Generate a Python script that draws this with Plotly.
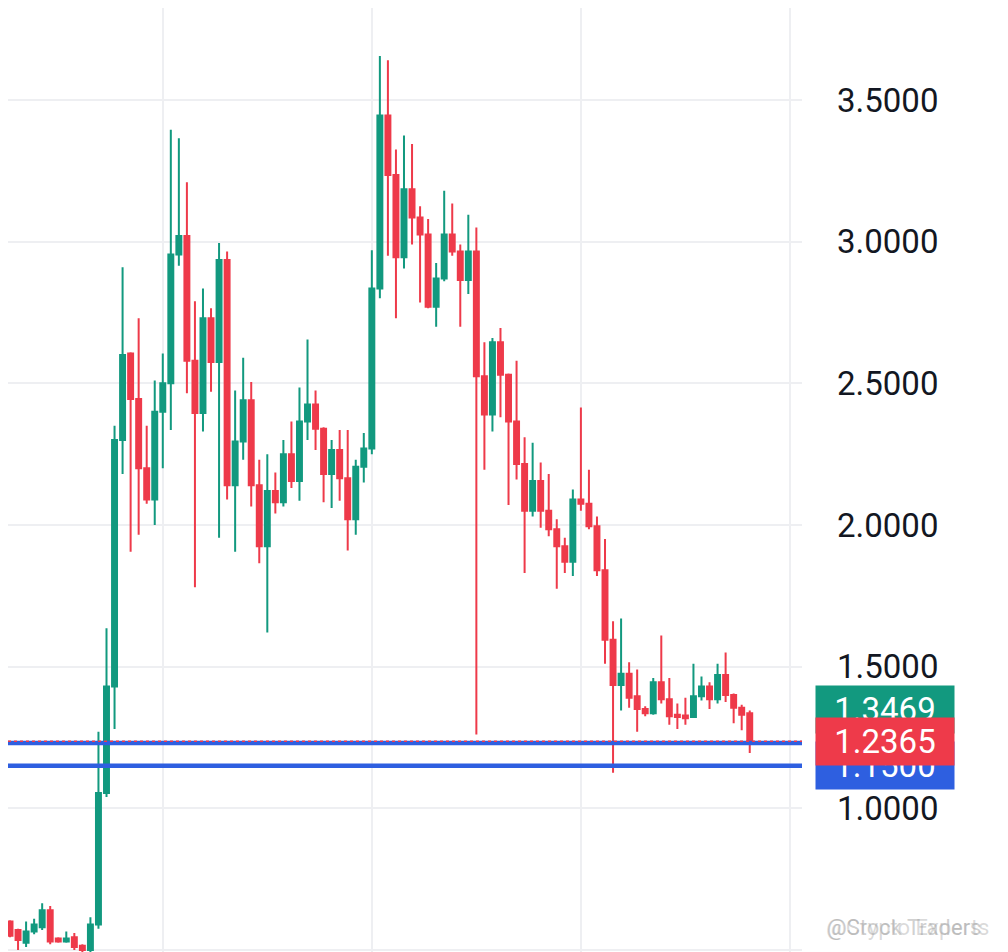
import plotly.graph_objects as go

# candle OHLC values (one candle per slot, oldest first)
opens = [
    0.565, 0.60, 0.57, 0.525, 0.565, 0.58, 0.64, 0.54, 0.53, 0.545,
    0.515, 0.50, 0.59, 1.054, 1.43, 2.30, 2.605, 2.445, 2.20, 2.09,
    2.40, 2.50, 2.955, 3.02, 2.58, 2.395, 2.73, 2.575, 2.935, 2.14,
    2.295, 2.44, 2.14, 1.925, 2.12, 2.08, 2.25, 2.155, 2.365, 2.425,
    2.34, 2.18, 2.265, 2.165, 2.02, 2.205, 2.27, 2.835, 3.445, 3.235,
    2.945, 3.185, 3.085, 3.025, 2.77, 2.87, 3.025, 2.965, 2.865, 2.965,
    2.525, 2.39, 2.645, 2.53, 2.365, 2.215, 2.05, 2.155, 2.05, 1.985,
    1.925, 1.87, 2.09, 2.075, 1.995, 1.84, 1.595, 1.435, 1.475, 1.395,
    1.35, 1.335, 1.445, 1.385, 1.33, 1.327, 1.322, 1.395, 1.43, 1.385,
    1.47, 1.40, 1.355, 1.335,
]
highs = [
    0.64, 0.605, 0.575, 0.60, 0.61, 0.665, 0.655, 0.545, 0.565, 0.56,
    0.52, 0.615, 1.27, 1.635, 2.35, 2.91, 2.61, 2.73, 2.35, 2.51,
    2.605, 3.395, 3.365, 3.21, 2.79, 2.835, 2.765, 2.995, 2.965, 2.475,
    2.59, 2.505, 2.23, 2.25, 2.185, 2.30, 2.365, 2.485, 2.655, 2.475,
    2.345, 2.30, 2.335, 2.335, 2.23, 2.325, 2.97, 3.655, 3.64, 3.325,
    3.375, 3.345, 3.125, 3.08, 2.925, 3.18, 3.135, 2.99, 3.095, 3.05,
    2.645, 2.66, 2.695, 2.535, 2.58, 2.31, 2.29, 2.22, 2.18, 2.02,
    1.955, 2.125, 2.415, 2.195, 2.03, 1.95, 1.66, 1.67, 1.515, 1.49,
    1.36, 1.46, 1.61, 1.46, 1.37, 1.39, 1.51, 1.465, 1.445, 1.51,
    1.55, 1.405, 1.365, 1.345,
]
lows = [
    0.555, 0.545, 0.50, 0.51, 0.555, 0.57, 0.52, 0.525, 0.525, 0.50,
    0.49, 0.49, 0.575, 1.04, 1.28, 2.18, 1.905, 1.965, 2.075, 2.00,
    2.20, 2.335, 2.915, 2.465, 1.78, 2.33, 2.47, 1.955, 2.09, 1.905,
    2.23, 2.065, 1.865, 1.62, 2.04, 2.065, 2.13, 2.085, 2.30, 2.265,
    2.08, 2.06, 2.085, 1.91, 1.965, 2.15, 2.25, 2.80, 2.95, 2.73,
    2.905, 2.99, 2.785, 2.765, 2.70, 2.86, 2.95, 2.70, 2.815, 1.26,
    2.195, 2.33, 2.38, 2.07, 2.16, 1.83, 2.03, 1.99, 1.96, 1.775,
    1.83, 1.82, 2.05, 1.985, 1.82, 1.51, 1.125, 1.345, 1.355, 1.27,
    1.325, 1.33, 1.37, 1.295, 1.28, 1.295, 1.32, 1.38, 1.35, 1.37,
    1.375, 1.30, 1.275, 1.195,
]
closes = [
    0.63, 0.55, 0.535, 0.565, 0.59, 0.64, 0.53, 0.53, 0.54, 0.51,
    0.50, 0.59, 1.054, 1.43, 2.30, 2.60, 2.445, 2.20, 2.09, 2.40,
    2.50, 2.955, 3.02, 2.58, 2.395, 2.73, 2.575, 2.935, 2.14, 2.295,
    2.44, 2.14, 1.925, 2.12, 2.08, 2.25, 2.155, 2.365, 2.425, 2.34,
    2.18, 2.265, 2.165, 2.02, 2.205, 2.27, 2.835, 3.445, 3.235, 2.945,
    3.185, 3.085, 3.025, 2.77, 2.87, 3.025, 2.965, 2.865, 2.965, 2.525,
    2.39, 2.645, 2.53, 2.365, 2.215, 2.05, 2.155, 2.05, 1.985, 1.925,
    1.87, 2.09, 2.075, 1.995, 1.84, 1.595, 1.435, 1.475, 1.39, 1.35,
    1.335, 1.445, 1.385, 1.325, 1.322, 1.318, 1.395, 1.43, 1.385, 1.47,
    1.40, 1.355, 1.33, 1.2365,
]
bars = list(range(len(closes)))

# horizontal support levels drawn in blue
support_levels = [1.23, 1.15]
last_price = 1.2365

# price tags on the right axis: (value, text, colour), drawn in this order
price_tags = [
    (1.3469, "1.3469", "#12997f"),
    (1.1500, "1.1500", "#2e5fe0"),
    (1.2365, "1.2365", "#ee3a4a"),
]

GREEN = "#12997f"
RED = "#ee3a4a"
BLUE = "#2e5fe0"
GRID = "#eeeff2"

fig = go.Figure()

fig.add_trace(go.Candlestick(
    x=bars, open=opens, high=highs, low=lows, close=closes,
    increasing=dict(line=dict(color=GREEN, width=2), fillcolor=GREEN),
    decreasing=dict(line=dict(color=RED, width=2), fillcolor=RED),
    whiskerwidth=0,
    showlegend=False,
))

for lvl in support_levels:
    fig.add_shape(
        type="line", xref="paper", x0=0, x1=1, yref="y", y0=lvl, y1=lvl,
        line=dict(color=BLUE, width=4.5),
    )

# current price line
fig.add_shape(
    type="line", xref="paper", x0=0, x1=1, yref="y", y0=last_price, y1=last_price,
    line=dict(color=RED, width=1.5, dash="dot"),
)

for val, txt, col in price_tags:
    fig.add_annotation(
        x=1, xref="paper", xanchor="left", xshift=13,
        y=val, yref="y", yanchor="middle",
        text=txt, showarrow=False,
        font=dict(family="Roboto", size=33, color="#ffffff"),
        bgcolor=col, width=138, height=47, borderpad=0, align="center",
    )

# faint watermark bottom right
fig.add_annotation(
    x=1.128, xref="paper", xanchor="center",
    y=0.034, yref="paper", yanchor="middle",
    text="@Stock Traders", showarrow=False,
    font=dict(family="Roboto", size=22, color="rgba(150,150,150,0.45)"),
)
fig.add_annotation(
    x=1.133, xref="paper", xanchor="center",
    y=0.034, yref="paper", yanchor="middle",
    text="@Crypto Experts", showarrow=False,
    font=dict(family="Roboto", size=22, color="rgba(150,150,150,0.35)"),
)

fig.update_layout(
    width=1008, height=952,
    margin=dict(l=0, r=214, t=0, b=0),
    paper_bgcolor="white",
    plot_bgcolor="white",
    boxgap=0.12,
    font=dict(family="Roboto", color="#131722"),
    xaxis=dict(
        range=[0.75, 99.5],
        tick0=20, dtick=26,
        showticklabels=False, ticks="",
        showgrid=True, gridcolor=GRID, gridwidth=1.5,
        zeroline=False, showline=False,
        rangeslider=dict(visible=False),
    ),
    yaxis=dict(
        side="right",
        range=[0.4644, 3.8247],
        tick0=0.5, dtick=0.5, tickformat=".4f",
        ticks="", ticklabelstandoff=34,
        tickfont=dict(family="Roboto", size=33, color="#131722"),
        showgrid=True, gridcolor=GRID, gridwidth=1.5,
        zeroline=False, showline=False,
    ),
)

fig.write_html("out.html")
